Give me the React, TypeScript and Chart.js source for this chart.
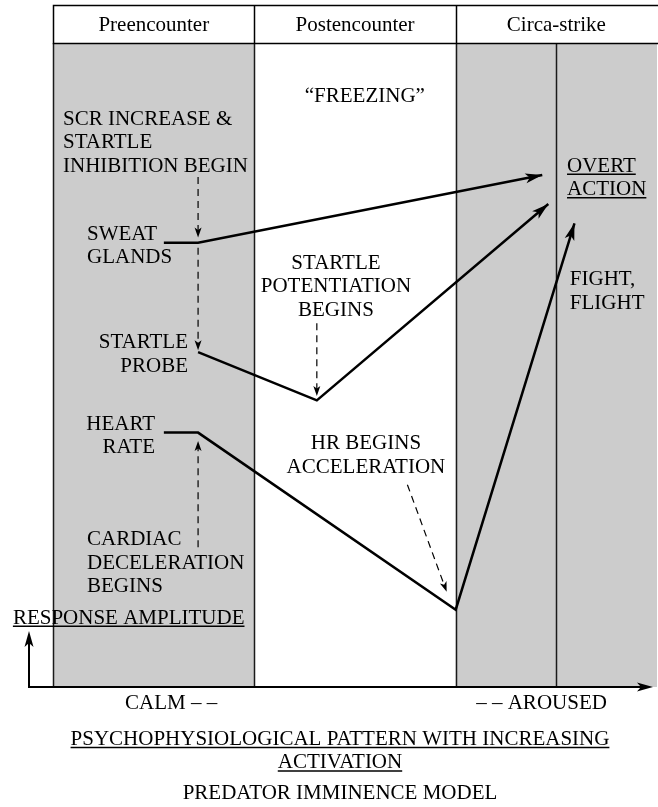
import React, { useEffect, useRef } from "react";
import { Chart, registerables } from "chart.js";

Chart.register(...registerables);

// ---- data (x: activation phase units, y: response amplitude units) ----
const phaseLabels = ["Preencounter", "Postencounter", "Circa-strike"];
const phaseEdges = [0, 1, 2, 3];
const phaseShaded = [true, false, true];
const circaDivider = 2.5;

const sweatGlands = [
  { x: 0.55, y: 69 },
  { x: 0.72, y: 69 },
  { x: 2.43, y: 79.5 },
];
const startleProbe = [
  { x: 0.72, y: 52 },
  { x: 1.31, y: 44.5 },
  { x: 2.46, y: 75 },
];
const heartRate = [
  { x: 0.55, y: 39.5 },
  { x: 0.72, y: 39.5 },
  { x: 2.0, y: 12 },
  { x: 2.59, y: 72 },
];

const cueArrows = [
  { from: { x: 0.72, y: 79.2 }, to: { x: 0.72, y: 69.8 } },
  { from: { x: 0.72, y: 68.2 }, to: { x: 0.72, y: 52.3 } },
  { from: { x: 1.31, y: 56.5 }, to: { x: 1.31, y: 45.2 } },
  { from: { x: 0.72, y: 21.7 }, to: { x: 0.72, y: 38.2 } },
  { from: { x: 1.76, y: 31.4 }, to: { x: 1.955, y: 14.8 } },
];

const labels = [
  { lines: ["SCR INCREASE &", "STARTLE", "INHIBITION BEGIN"], x: 0.049, y: 88.4, align: "left" },
  { lines: ["\u201CFREEZING\u201D"], x: 1.25, y: 92, align: "left" },
  { lines: ["SWEAT", "GLANDS"], x: 0.168, y: 70.5, align: "left" },
  { lines: ["STARTLE", "POTENTIATION", "BEGINS"], x: 1.405, y: 66.0, align: "center" },
  { lines: ["STARTLE", "PROBE"], x: 0.67, y: 53.7, align: "right" },
  { lines: ["HEART", "RATE"], x: 0.506, y: 41.0, align: "right" },
  { lines: ["HR BEGINS", "ACCELERATION"], x: 1.554, y: 38.0, align: "center" },
  { lines: ["CARDIAC", "DECELERATION", "BEGINS"], x: 0.168, y: 23.1, align: "left" },
  { lines: ["RESPONSE AMPLITUDE"], x: -0.2, y: 10.9, align: "left", underline: true },
  { lines: ["OVERT", "ACTION"], x: 2.553, y: 81.1, align: "left", underline: true },
  { lines: ["FIGHT,", "FLIGHT"], x: 2.567, y: 63.5, align: "left" },
  { lines: ["CALM \u2013 \u2013"], x: 0.357, y: -2.4, align: "left" },
  { lines: ["\u2013 \u2013 AROUSED"], x: 2.751, y: -2.4, align: "right" },
  {
    lines: ["PSYCHOPHYSIOLOGICAL PATTERN WITH INCREASING", "ACTIVATION"],
    x: 1.425,
    y: -7.9,
    align: "center",
    underline: true,
  },
  { lines: ["PREDATOR IMMINENCE MODEL"], x: 1.425, y: -16.3, align: "center" },
];

const headerTop = 105.9;
const headerText = 102.95;
const axisX = -0.12;
const xAxisEnd = 2.98;
const yAxisEnd = 8.7;

const FONT = "21px 'Liberation Serif', 'Times New Roman', serif";
const LINE_H = 23.5;

function arrowHead(ctx: CanvasRenderingContext2D, fx: number, fy: number, tx: number, ty: number, len: number, half: number) {
  const ang = Math.atan2(ty - fy, tx - fx);
  const c = Math.cos(ang);
  const s = Math.sin(ang);
  const bx = tx - c * len;
  const by = ty - s * len;
  const nx = tx - c * len * 0.75;
  const ny = ty - s * len * 0.75;
  ctx.beginPath();
  ctx.moveTo(tx, ty);
  ctx.lineTo(bx - s * half, by + c * half);
  ctx.lineTo(nx, ny);
  ctx.lineTo(bx + s * half, by - c * half);
  ctx.closePath();
  ctx.fill();
}

const diagramPlugin = {
  id: "diagram",
  beforeDatasetsDraw(chart: any) {
    const ctx: CanvasRenderingContext2D = chart.ctx;
    const xs = chart.scales.x;
    const ys = chart.scales.y;
    const X = (v: number) => xs.getPixelForValue(v);
    const Y = (v: number) => ys.getPixelForValue(v);
    ctx.save();
    const bottom = Y(0);
    const top = Y(100);
    // columns
    for (let i = 0; i < phaseLabels.length; i++) {
      if (phaseShaded[i]) {
        ctx.fillStyle = "#cccccc";
        ctx.fillRect(X(phaseEdges[i]), top, X(phaseEdges[i + 1]) - X(phaseEdges[i]), bottom - top);
      }
    }
    ctx.strokeStyle = "#1a1a1a";
    ctx.lineWidth = 1.5;
    const dividers = [phaseEdges[0], phaseEdges[1], phaseEdges[2], circaDivider];
    dividers.forEach((d) => {
      ctx.beginPath();
      ctx.moveTo(Math.round(X(d)) + 0.5, top);
      ctx.lineTo(Math.round(X(d)) + 0.5, bottom);
      ctx.stroke();
    });
    // header
    const hTop = Y(headerTop);
    ctx.fillStyle = "#ffffff";
    ctx.fillRect(X(phaseEdges[0]), hTop, X(phaseEdges[3]) - X(phaseEdges[0]), top - hTop);
    ctx.strokeStyle = "#000000";
    ctx.lineWidth = 1.5;
    ctx.strokeRect(Math.round(X(phaseEdges[0])) + 0.5, Math.round(hTop) + 0.5, X(phaseEdges[3]) + 2 - X(phaseEdges[0]), Math.round(top - hTop));
    for (let i = 1; i < phaseLabels.length; i++) {
      ctx.beginPath();
      ctx.moveTo(Math.round(X(phaseEdges[i])) + 0.5, hTop);
      ctx.lineTo(Math.round(X(phaseEdges[i])) + 0.5, top);
      ctx.stroke();
    }
    ctx.fillStyle = "#000";
    ctx.font = FONT;
    ctx.textAlign = "center";
    ctx.textBaseline = "alphabetic";
    phaseLabels.forEach((l, i) => {
      ctx.fillText(l, X((phaseEdges[i] + phaseEdges[i + 1]) / 2), Y(headerText) + 7);
    });
    // axes
    ctx.strokeStyle = "#000";
    ctx.lineWidth = 2;
    ctx.beginPath();
    ctx.moveTo(X(axisX) - 1, bottom);
    ctx.lineTo(X(xAxisEnd) - 6, bottom);
    ctx.stroke();
    ctx.beginPath();
    ctx.moveTo(X(axisX), bottom);
    ctx.lineTo(X(axisX), Y(yAxisEnd) + 6);
    ctx.stroke();
    ctx.fillStyle = "#000";
    arrowHead(ctx, X(axisX), bottom, X(xAxisEnd), bottom, 16, 4.5);
    arrowHead(ctx, X(axisX), bottom, X(axisX), Y(yAxisEnd), 16, 4.5);
    ctx.restore();
  },
  afterDatasetsDraw(chart: any) {
    const ctx: CanvasRenderingContext2D = chart.ctx;
    const xs = chart.scales.x;
    const ys = chart.scales.y;
    const X = (v: number) => xs.getPixelForValue(v);
    const Y = (v: number) => ys.getPixelForValue(v);
    ctx.save();
    ctx.fillStyle = "#000";
    // arrowheads for the series
    chart.data.datasets.forEach((_: any, i: number) => {
      const pts = chart.getDatasetMeta(i).data;
      const a = pts[pts.length - 2];
      const b = pts[pts.length - 1];
      arrowHead(ctx, a.x, a.y, b.x, b.y, 17, 5);
    });
    // dashed cue arrows
    ctx.strokeStyle = "#000";
    ctx.lineWidth = 1.2;
    cueArrows.forEach((c) => {
      const fx = X(c.from.x), fy = Y(c.from.y), tx = X(c.to.x), ty = Y(c.to.y);
      const ang = Math.atan2(ty - fy, tx - fx);
      ctx.setLineDash([7, 5]);
      ctx.beginPath();
      ctx.moveTo(fx, fy);
      ctx.lineTo(tx - Math.cos(ang) * 6, ty - Math.sin(ang) * 6);
      ctx.stroke();
      ctx.setLineDash([]);
      arrowHead(ctx, fx, fy, tx, ty, 10, 3.5);
    });
    // labels
    ctx.font = FONT;
    ctx.textBaseline = "alphabetic";
    labels.forEach((l) => {
      ctx.textAlign = l.align as CanvasTextAlign;
      l.lines.forEach((line, k) => {
        const px = X(l.x);
        const py = Y(l.y) + k * LINE_H + 7;
        ctx.fillText(line, px, py);
        if (l.underline) {
          const w = ctx.measureText(line).width;
          let x0 = px;
          if (l.align === "center") x0 = px - w / 2;
          else if (l.align === "right") x0 = px - w;
          ctx.lineWidth = 1.5;
          ctx.beginPath();
          ctx.moveTo(x0, py + 2.5);
          ctx.lineTo(x0 + w, py + 2.5);
          ctx.stroke();
        }
      });
    });
    ctx.restore();
  },
};

export default function App() {
  const canvasRef = useRef<HTMLCanvasElement | null>(null);
  useEffect(() => {
    if (!canvasRef.current) return;
    const mk = (data: { x: number; y: number }[], label: string) => ({
      label,
      data,
      borderColor: "#000",
      borderWidth: 2.5,
      pointRadius: 0,
      tension: 0,
      fill: false,
      borderCapStyle: "butt",
      borderJoinStyle: "miter",
    });
    const chart = new Chart(canvasRef.current, {
      type: "line",
      data: {
        datasets: [
          mk(sweatGlands, "Sweat glands"),
          mk(startleProbe, "Startle probe"),
          mk(heartRate, "Heart rate"),
        ] as any,
      },
      options: {
        animation: false,
        responsive: false,
        events: [],
        layout: { padding: { left: 29, right: 1, top: 43, bottom: 120 } },
        plugins: { legend: { display: false }, tooltip: { enabled: false } },
        scales: {
          x: { type: "linear", min: axisX, max: 3, display: false },
          y: { type: "linear", min: 0, max: 100, display: false },
        },
      },
      plugins: [diagramPlugin],
    });
    return () => chart.destroy();
  }, []);
  return (
    <div style={{ position: "absolute", left: 0, top: 0, width: 658, height: 807, background: "#fff" }}>
      <canvas ref={canvasRef} width={658} height={807} style={{ display: "block" }} />
    </div>
  );
}
